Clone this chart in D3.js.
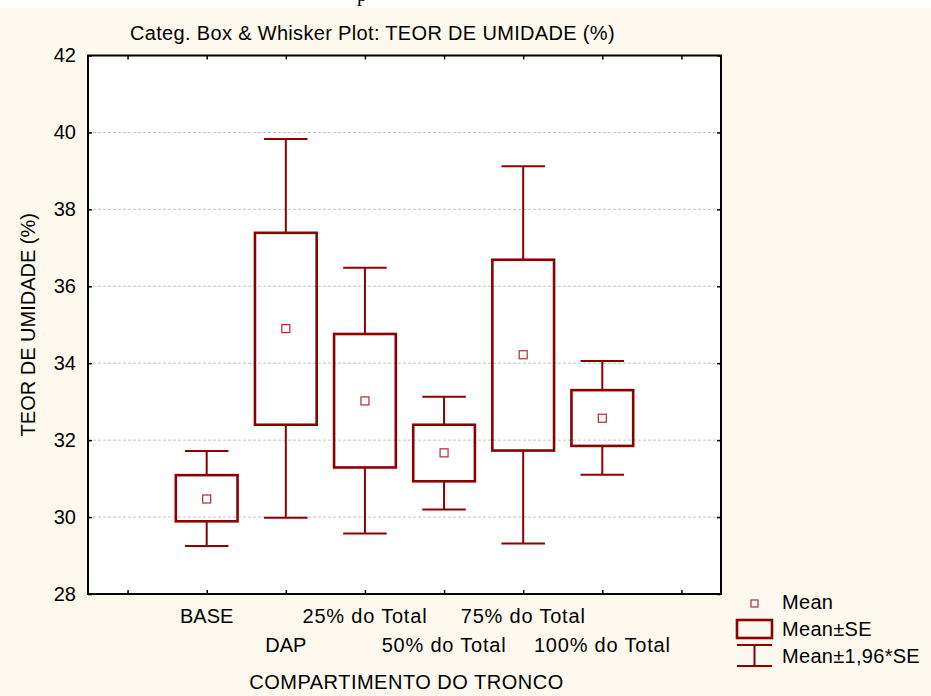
<!DOCTYPE html>
<html>
<head>
<meta charset="utf-8">
<script src="https://cdn.jsdelivr.net/npm/d3@7/dist/d3.min.js"></script>
<style>
  html, body { margin: 0; padding: 0; background: #fdf9ef; }
  svg { display: block; }
  text { font-family: "Liberation Sans", Arial, sans-serif; fill: #000; }
</style>
</head>
<body>
<svg id="chart" width="931" height="696"></svg>
<script>
// ---- data ----
const categories = ["BASE", "DAP", "25% do Total", "50% do Total", "75% do Total", "100% do Total"];
const means  = [30.47, 34.90, 33.02, 31.67, 34.22, 32.57];
const seLow  = [29.89, 32.40, 31.29, 30.93, 31.73, 31.85];
const seHigh = [31.09, 37.39, 34.76, 32.40, 36.69, 33.30];
const ciLow  = [29.25, 29.98, 29.57, 30.20, 29.31, 31.10];
const ciHigh = [31.72, 39.83, 36.48, 33.13, 39.12, 34.06];
const yTicks = [28, 30, 32, 34, 36, 38, 40, 42];
const chartTitle = "Categ. Box & Whisker Plot: TEOR DE UMIDADE (%)";
const xTitle = "COMPARTIMENTO DO TRONCO";
const yTitle = "TEOR DE UMIDADE (%)";
const legendLabels = ["Mean", "Mean\u00b1SE", "Mean\u00b11,96*SE"];

// ---- layout ----
const W = 931, H = 696;
const plot = { left: 88, right: 721, top: 55.5, bottom: 594 };
const boxColor = "#8b0000";
const meanColor = "#a83030";

const svg = d3.select("#chart");

// top white strip of the page the chart was pasted into
svg.append("rect").attr("x", 0).attr("y", 0).attr("width", W).attr("height", 8).attr("fill", "#ffffff");
svg.append("clipPath").attr("id", "topclip").append("rect").attr("x", 0).attr("y", 0).attr("width", W).attr("height", 8);
svg.append("text").attr("clip-path", "url(#topclip)")
  .attr("x", 357).attr("y", 1)
  .style("font-family", "'Liberation Serif', 'Times New Roman', serif")
  .style("font-size", "20px").text("p");

const slots = ["__l", ...categories, "__r"];
const x = d3.scalePoint().domain(slots).range([plot.left, plot.right]).padding(0.5);
const y = d3.scaleLinear().domain([28, 42]).range([plot.bottom, plot.top]);
const step = x.step();

// plot background
svg.append("rect")
  .attr("x", plot.left).attr("y", plot.top)
  .attr("width", plot.right - plot.left).attr("height", plot.bottom - plot.top)
  .attr("fill", "#ffffff");

// grid
svg.append("g").selectAll("line")
  .data(yTicks.filter(t => t > 28 && t < 42))
  .join("line")
  .attr("x1", plot.left).attr("x2", plot.right)
  .attr("y1", d => y(d)).attr("y2", d => y(d))
  .attr("stroke", "#c4c4c4").attr("stroke-width", 1).attr("stroke-dasharray", "3,2");

// axes (ticks inward on all four sides)
const axL = svg.append("g").attr("transform", `translate(${plot.left},0)`)
  .call(d3.axisLeft(y).tickValues(yTicks).tickSize(-4).tickPadding(12).tickFormat(d3.format("d")));
const axR = svg.append("g").attr("transform", `translate(${plot.right},0)`)
  .call(d3.axisRight(y).tickValues(yTicks).tickSize(-4).tickFormat(""));
const axB = svg.append("g").attr("transform", `translate(0,${plot.bottom})`)
  .call(d3.axisBottom(x).tickSize(-4).tickFormat(""));
const axT = svg.append("g").attr("transform", `translate(0,${plot.top})`)
  .call(d3.axisTop(x).tickSize(-4).tickFormat(""));
[axL, axR, axB, axT].forEach(g => {
  g.select(".domain").remove();
  g.selectAll(".tick line").attr("stroke", "#000").attr("stroke-width", 1.5);
});
axL.selectAll(".tick text").style("font-size", "20px").style("font-family", "'Liberation Sans', Arial, sans-serif").attr("fill", "#000");

// x category labels, alternating rows
svg.append("g").selectAll("text")
  .data(categories)
  .join("text")
  .attr("x", d => x(d))
  .attr("y", (d, i) => i % 2 === 0 ? 623 : 652)
  .attr("text-anchor", "middle")
  .style("font-size", "20px")
  .style("letter-spacing", d => d.length > 4 ? "0.8px" : "0px")
  .text(d => d);

// boxes & whiskers
const gBoxes = svg.append("g");
categories.forEach((c, i) => {
  const cx = x(c);
  const bw = step * 0.78, cw = step * 0.55;
  const g = gBoxes.append("g");
  g.append("line").attr("x1", cx).attr("x2", cx).attr("y1", y(ciHigh[i])).attr("y2", y(seHigh[i]))
    .attr("stroke", boxColor).attr("stroke-width", 2);
  g.append("line").attr("x1", cx).attr("x2", cx).attr("y1", y(seLow[i])).attr("y2", y(ciLow[i]))
    .attr("stroke", boxColor).attr("stroke-width", 2);
  [ciHigh[i], ciLow[i]].forEach(v => {
    g.append("line").attr("x1", cx - cw / 2).attr("x2", cx + cw / 2).attr("y1", y(v)).attr("y2", y(v))
      .attr("stroke", boxColor).attr("stroke-width", 2);
  });
  g.append("rect")
    .attr("x", cx - bw / 2).attr("y", y(seHigh[i]))
    .attr("width", bw).attr("height", y(seLow[i]) - y(seHigh[i]))
    .attr("fill", "none").attr("stroke", boxColor).attr("stroke-width", 2.6);
  g.append("rect")
    .attr("x", cx - 4).attr("y", y(means[i]) - 4)
    .attr("width", 8).attr("height", 8)
    .attr("fill", "#fff").attr("stroke", meanColor).attr("stroke-width", 1.2);
});

// frame
svg.append("rect")
  .attr("x", plot.left).attr("y", plot.top)
  .attr("width", plot.right - plot.left).attr("height", plot.bottom - plot.top)
  .attr("fill", "none").attr("stroke", "#000").attr("stroke-width", 2);

// titles
svg.append("text").attr("x", 130).attr("y", 40).attr("text-anchor", "start")
  .style("font-size", "20px").style("letter-spacing", "0.33px").text(chartTitle);
svg.append("text").attr("x", (plot.left + plot.right) / 2 + 2).attr("y", 689).attr("text-anchor", "middle")
  .style("font-size", "20px").style("letter-spacing", "0.5px").text(xTitle);
svg.append("text").attr("transform", `translate(35,${(plot.top + plot.bottom) / 2}) rotate(-90)`)
  .attr("text-anchor", "middle").style("font-size", "20px").text(yTitle);

// legend
const lg = svg.append("g");
const lx = 737, lw = 35;
lg.append("rect").attr("x", 751).attr("y", 600).attr("width", 7).attr("height", 7)
  .attr("fill", "#fff").attr("stroke", meanColor).attr("stroke-width", 1.2);
lg.append("rect").attr("x", lx).attr("y", 620).attr("width", lw).attr("height", 18)
  .attr("fill", "none").attr("stroke", boxColor).attr("stroke-width", 2.6);
lg.append("line").attr("x1", lx).attr("x2", lx + lw).attr("y1", 645).attr("y2", 645).attr("stroke", boxColor).attr("stroke-width", 2);
lg.append("line").attr("x1", lx).attr("x2", lx + lw).attr("y1", 666).attr("y2", 666).attr("stroke", boxColor).attr("stroke-width", 2);
lg.append("line").attr("x1", lx + lw / 2).attr("x2", lx + lw / 2).attr("y1", 645).attr("y2", 666).attr("stroke", boxColor).attr("stroke-width", 2);
lg.selectAll("text.lbl").data(legendLabels).join("text").attr("class", "lbl")
  .attr("x", 782).attr("y", (d, i) => [609, 636, 663][i])
  .style("font-size", "20px").style("letter-spacing", "0.3px").text(d => d);
</script>
</body>
</html>
